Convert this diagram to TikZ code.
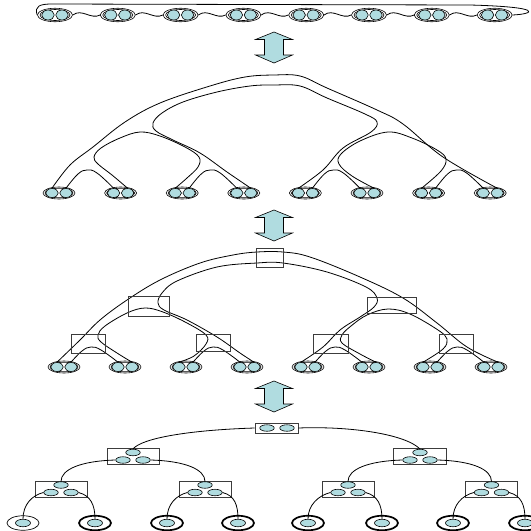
\documentclass[tikz,border=0pt]{standalone}
\usetikzlibrary{shapes.geometric,calc}
\definecolor{cyanfill}{RGB}{176,220,224}
\definecolor{rectgray}{RGB}{60,60,60}
\tikzset{
  cell/.style={ellipse, draw=black, fill=cyanfill, inner sep=0pt, minimum width=12.5pt, minimum height=9pt, line width=0.6pt},
  bigcell/.style={ellipse, draw=black, fill=cyanfill, inner sep=0pt, minimum width=12.5pt, minimum height=10pt, line width=0.6pt},
  outring/.style={ellipse, draw, inner sep=0pt, minimum width=32pt, minimum height=12pt, line width=0.6pt},
  inring/.style={ellipse, draw, inner sep=0pt, minimum width=28pt, minimum height=9.5pt, line width=0.6pt},
  topout/.style={ellipse, draw, inner sep=0pt, minimum width=35pt, minimum height=13.5pt, line width=0.6pt},
  topin/.style={ellipse, draw, inner sep=0pt, minimum width=30pt, minimum height=11pt, line width=0.6pt},
  boxnode/.style={draw=rectgray, inner sep=0pt, line width=0.7pt},
  dotnode/.style={ellipse, draw=black, fill=cyanfill, inner sep=0pt, minimum width=14.5pt, minimum height=6.5pt, line width=0.6pt},
  leafring/.style={ellipse, draw, inner sep=0pt, minimum width=32pt, minimum height=14.5pt},
  leafdot/.style={ellipse, draw=black, fill=cyanfill, inner sep=0pt, minimum width=15pt, minimum height=7.5pt, line width=0.6pt},
  tube/.style={line width=0.8pt},
  arrowshape/.style={draw=black, fill=cyanfill, line width=0.6pt}
}
\newcommand\dblarr[3]{%
  \draw[arrowshape] (#1,#2) -- (#1+18.5,#2+7.5) -- (#1+9.5,#2+7.5) -- (#1+9.5,#3-8) -- (#1+18.5,#3-8) -- (#1,#3)
    -- (#1-18.5,#3-8) -- (#1-9.5,#3-8) -- (#1-9.5,#2+7.5) -- (#1-18.5,#2+7.5) -- cycle;}
\begin{document}
\begin{tikzpicture}[x=1pt,y=-1pt]
\useasboundingbox (0,0) rectangle (531,531);

% ---------- level 1: ring ----------
\foreach \i in {0,...,7} {
  \pgfmathsetmacro\cx{55+62.8*\i}
  \node[topout] (gO\i) at (\cx,15) {};
  \node[topin] (gI\i) at (\cx,15) {};
  \node[bigcell] (gL\i) at (\cx-7,15) {};
  \node[bigcell] (gR\i) at (\cx+7,15) {};
}
\foreach \i in {0,...,6} {
  \pgfmathtruncatemacro\j{\i+1}
  \draw[tube] (gO\i.east) .. controls +(9,-7) and +(-9,5) .. (gO\j.west);
}
\draw[tube] (gO0.west) .. controls (34,6) and (40,4) .. (52,4) -- (470,5) .. controls (545,7) and (535,14) .. (gO7.east);

\dblarr{274}{32}{63}

% ---------- level 2: tube tree ----------
\foreach \i in {0,...,7} {
  \pgfmathsetmacro\cx{59+61.6*\i}
  \node[outring] (aO\i) at (\cx,193) {};
  \node[inring] (aI\i) at (\cx,193) {};
  \node[cell] (aL\i) at (\cx-7,193) {};
  \node[cell] (aR\i) at (\cx+7,193) {};
}
\draw[tube] plot[smooth,tension=0.6] coordinates {(aL0.north) (70,165) (93,147) (125,122) (160,103) (210,86) (245,77) (274,75) (300,76) (327,88) (377,110) (403,124) (443,157) (aR7.north)};
\draw[tube] plot[smooth,tension=0.6] coordinates {(aR3.north) (227,172) (200,153) (173,140) (156,131) (153,123) (162,113) (183,102) (217,92) (250,86) (274,85) (300,86) (327,98) (365,114) (377,122) (371,132) (343,148) (323,170) (aL4.north)};
\draw[tube] plot[smooth,tension=0.6] coordinates {(aR1.north) (112,175) (98,164) (94,157) (101,148) (120,138) (140,132) (160,136) (185,147) (199,157) (198,167) (187,178) (aL2.north)};
\draw[tube] plot[smooth,tension=0.6] coordinates {(aR5.north) (352,176) (339,164) (341,154) (360,141) (388,132) (412,138) (437,150) (446,159) (441,171) (aL6.north)};
\foreach \k in {0,2,4,6} {
  \pgfmathtruncatemacro\kn{\k+1}
  \pgfmathsetmacro\cx{59+61.6*\k}
  \draw[tube] plot[smooth,tension=0.7] coordinates {(aR\k.north) (\cx+19,174) (\cx+28,170) (\cx+38,173) (aL\kn.north)};
}

\dblarr{274}{210}{241}

% ---------- level 3: tube tree with boxes ----------
\foreach \i in {0,...,7} {
  \pgfmathsetmacro\cx{64+61*\i}
  \node[outring] (bO\i) at (\cx,367) {};
  \node[inring] (bI\i) at (\cx,367) {};
  \node[cell] (bL\i) at (\cx-7,367) {};
  \node[cell] (bR\i) at (\cx+7,367) {};
}
\draw[tube] plot[smooth,tension=0.6] coordinates {(bL0.north) (80,340) (100,320) (127,300) (160,280) (200,263) (233,255) (257,252) (283,252) (310,257) (360,277) (403,298) (437,323) (467,347) (bR7.north)};
\draw[tube] plot[smooth,tension=0.6] coordinates {(bR3.north) (240,353) (217,337) (187,320) (164,310) (158,303) (162,293) (177,281) (217,267) (257,263) (283,263) (327,272) (366,287) (377,298) (374,307) (360,317) (340,330) (323,347) (bL4.north)};
\draw[tube] plot[smooth,tension=0.6] coordinates {(bR1.north) (117,353) (101,342) (98,335) (105,326) (127,313) (145,308) (163,312) (187,323) (206,335) (206,344) (194,356) (bL2.north)};
\draw[tube] plot[smooth,tension=0.6] coordinates {(bR5.north) (360,354) (342,343) (342,335) (351,326) (367,315) (388,309) (410,314) (438,330) (447,339) (443,349) (bL6.north)};
\foreach \k in {0,2,4,6} {
  \pgfmathtruncatemacro\kn{\k+1}
  \pgfmathsetmacro\cx{64+61*\k}
  \draw[tube] plot[smooth,tension=0.7] coordinates {(bR\k.north) (\cx+18,351) (\cx+27,347) (\cx+37,350) (bL\kn.north)};
}
\node[boxnode, minimum width=27pt, minimum height=19pt] (r0) at (269.5,257.5) {};
\node[boxnode, minimum width=41pt, minimum height=20pt] (r1) at (148.5,306) {};
\node[boxnode, minimum width=49pt, minimum height=16pt] (r2) at (391.5,305) {};
\node[boxnode, minimum width=34pt, minimum height=19pt] (r3) at (88,343.5) {};
\node[boxnode, minimum width=34pt, minimum height=17pt] (r4) at (213,342.5) {};
\node[boxnode, minimum width=35pt, minimum height=19pt] (r5) at (330.5,343.5) {};
\node[boxnode, minimum width=34pt, minimum height=19pt] (r6) at (456,343.5) {};

\dblarr{274}{381}{412}

% ---------- level 4: tree of boxes ----------
\node[boxnode, minimum width=43pt, minimum height=10pt] (root) at (276.5,428) {};
\node[dotnode] (pa) at (267,428) {};
\node[dotnode] (pb) at (287,428) {};

\node[boxnode, minimum width=52pt, minimum height=16pt] (m1) at (133,456) {};
\node[dotnode] (m1t) at (133,452.5) {};
\node[dotnode] (m1a) at (123,460) {};
\node[dotnode] (m1b) at (143,460) {};
\node[boxnode, minimum width=53pt, minimum height=16pt] (m2) at (419.5,456) {};
\node[dotnode] (m2t) at (420,452.5) {};
\node[dotnode] (m2a) at (410,460) {};
\node[dotnode] (m2b) at (430,460) {};

\foreach \n/\cx in {1/61,2/205,3/348,4/491.5} {
  \node[boxnode, minimum width=52pt, minimum height=16pt] (s\n) at (\cx,489) {};
  \node[dotnode] (s\n t) at (\cx,485) {};
  \node[dotnode] (s\n a) at (\cx-10,492.5) {};
  \node[dotnode] (s\n b) at (\cx+10,492.5) {};
}
\foreach \n/\cx in {1/23,2/95,3/167,4/238,5/308,6/382,7/453,8/525} {
  \ifnum\n=1
    \node[leafring, line width=0.7pt] (lr\n) at (\cx,523) {};
  \else
    \node[leafring, line width=1.7pt] (lr\n) at (\cx,523) {};
  \fi
  \node[leafdot] (lf\n) at (\cx,523) {};
}

\draw[tube] (root.west) .. controls (190,430) and (142,438) .. (m1t.north);
\draw[tube] (root.east) .. controls (350,426) and (405,434) .. (m2t.north);
\draw[tube] (m1a.west) .. controls +(-35,1) and +(0,-12) .. (s1t.north);
\draw[tube] (m1b.east) .. controls +(35,1) and +(0,-12) .. (s2t.north);
\draw[tube] (m2a.west) .. controls +(-35,1) and +(0,-12) .. (s3t.north);
\draw[tube] (m2b.east) .. controls +(35,1) and +(0,-12) .. (s4t.north);
\foreach \n/\l/\r in {1/1/2,2/3/4,3/5/6,4/7/8} {
  \draw[tube] (s\n a.west) .. controls +(-12,3) and +(0,-14) .. (lf\l.north);
  \draw[tube] (s\n b.east) .. controls +(12,3) and +(0,-14) .. (lf\r.north);
}
\end{tikzpicture}
\end{document}
